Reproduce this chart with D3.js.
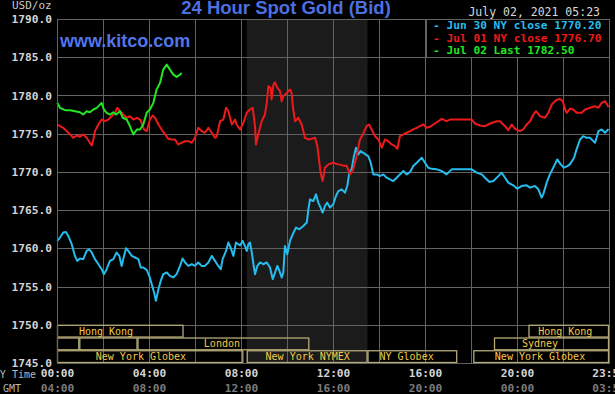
<!DOCTYPE html>
<html>
<head>
<meta charset="utf-8">
<script src="https://cdn.jsdelivr.net/npm/d3@7"></script>
<style>
  body { margin: 0; background: #000; }
  svg { display: block; }
</style>
</head>
<body>
<svg id="chart" width="615" height="394"></svg>
<script>
// hours since 00:00 NY time, price in USD/oz
var jun30 = [[0.01,1760.97],[0.13,1761.41],[0.27,1762.06],[0.39,1762.14],[0.49,1761.62],[0.64,1760.54],[0.78,1759.01],[0.88,1758.36],[1.0,1758.67],[1.14,1758.58],[1.29,1759.66],[1.4,1759.88],[1.51,1759.45],[1.65,1758.58],[1.8,1757.92],[1.94,1757.27],[2.04,1756.62],[2.16,1757.27],[2.3,1758.36],[2.45,1758.58],[2.59,1759.45],[2.71,1759.01],[2.81,1757.7],[2.88,1758.58],[3.0,1760.01],[3.1,1759.66],[3.25,1759.01],[3.39,1758.8],[3.54,1758.58],[3.64,1757.49],[3.75,1757.49],[3.9,1757.18],[4.01,1756.4],[4.12,1755.31],[4.22,1754.23],[4.3,1753.13],[4.41,1754.66],[4.51,1755.74],[4.62,1756.62],[4.77,1756.84],[4.91,1756.4],[5.06,1756.19],[5.2,1756.62],[5.35,1757.7],[5.46,1758.67],[5.57,1758.15],[5.71,1757.7],[5.86,1757.92],[6.0,1757.7],[6.14,1758.15],[6.29,1757.7],[6.43,1757.7],[6.58,1758.15],[6.73,1759.01],[6.87,1758.36],[7.01,1757.7],[7.12,1757.27],[7.2,1758.58],[7.35,1759.66],[7.45,1760.76],[7.55,1760.1],[7.67,1759.01],[7.78,1760.76],[7.88,1760.54],
  [7.96,1760.4],[8.07,1760.97],[8.17,1760.31],[8.25,1759.66],[8.32,1760.54],[8.39,1760.76],[8.47,1759.45],[8.54,1757.92],[8.61,1756.62],[8.71,1757.7],[8.83,1758.15],[8.97,1757.92],[9.12,1758.15],[9.26,1757.49],[9.38,1755.97],[9.48,1756.84],[9.58,1757.7],[9.67,1757.05],[9.77,1756.19],[9.84,1756.84],[9.91,1760.31],[10.01,1759.23],[10.13,1760.97],[10.25,1761.84],[10.39,1762.71],[10.54,1762.49],[10.71,1762.92],[10.86,1763.37],[10.93,1765.1],[11.0,1766.41],[11.14,1766.19],[11.26,1767.06],[11.36,1765.98],[11.46,1765.33],[11.55,1764.67],[11.65,1765.54],[11.75,1765.98],[11.87,1765.33],[12.01,1765.76],[12.13,1766.84],[12.23,1767.49],[12.38,1767.72],[12.52,1767.28],[12.62,1768.15],[12.71,1769.9],[12.81,1770.33],[12.91,1772.06],[13.0,1773.16],[13.1,1772.28],[13.2,1772.72],[13.35,1772.42],[13.53,1772.06],[13.64,1771.2],[13.75,1769.67],[13.9,1769.67],[14.04,1769.45],[14.19,1769.67],[14.33,1769.24],[14.48,1769.02],[14.62,1768.8],[14.77,1769.24],[14.91,1769.67],[15.06,1770.11],[15.2,1769.67],[15.35,1769.98],[15.49,1770.76],[15.64,1771.2],[15.86,1771.85],[16.0,1771.2],[16.14,1770.55],
  [16.29,1770.4],[16.51,1770.33],[16.73,1770.11],[16.94,1769.67],[17.16,1770.33],[17.52,1770.33],[18.03,1770.33],[18.25,1769.9],[18.47,1769.67],[18.61,1769.24],[18.8,1768.67],[18.97,1768.8],[19.19,1769.45],[19.33,1769.9],[19.48,1769.24],[19.62,1768.59],[19.84,1768.24],[20.01,1767.8],[20.2,1768.15],[20.42,1768.24],[20.57,1767.94],[20.78,1768.15],[20.93,1767.72],[21.07,1766.63],[21.14,1767.06],[21.29,1768.59],[21.43,1769.67],[21.61,1770.76],[21.75,1771.63],[21.9,1770.98],[22.04,1770.55],[22.19,1770.76],[22.3,1770.98],[22.48,1771.85],[22.59,1772.94],[22.74,1774.24],[22.88,1774.67],[23.03,1774.46],[23.17,1774.46],[23.32,1774.02],[23.39,1773.81],[23.46,1774.46],[23.54,1775.33],[23.68,1775.55],[23.83,1775.12],[23.98,1775.6]];

var jul01 = [[0.01,1776.2],[0.13,1775.98],[0.27,1775.77],[0.42,1775.33],[0.57,1774.9],[0.71,1774.46],[0.86,1774.76],[1.0,1774.6],[1.14,1774.9],[1.29,1774.46],[1.43,1773.81],[1.51,1773.46],[1.58,1774.24],[1.65,1775.33],[1.8,1776.2],[1.94,1776.85],[2.09,1776.63],[2.23,1776.85],[2.38,1777.28],[2.52,1777.73],[2.62,1778.38],[2.74,1777.94],[2.88,1777.5],[3.03,1777.08],[3.17,1777.28],[3.32,1776.85],[3.47,1777.08],[3.61,1776.85],[3.68,1776.42],[3.78,1775.55],[3.9,1775.33],[4.04,1776.85],[4.16,1777.38],[4.26,1777.08],[4.41,1776.2],[4.55,1775.55],[4.7,1774.9],[4.84,1774.33],[4.99,1774.24],[5.13,1774.24],[5.27,1773.59],[5.42,1773.81],[5.57,1774.02],[5.71,1774.02],[5.86,1773.81],[6.0,1774.46],[6.14,1775.77],[6.29,1775.33],[6.43,1775.12],[6.58,1775.77],[6.73,1775.12],[6.87,1774.46],[6.94,1774.6],[7.09,1776.63],[7.23,1776.85],[7.35,1778.38],[7.45,1777.94],[7.6,1776.2],[7.74,1776.85],[7.81,1776.2],[7.96,1775.55],
  [8.1,1776.42],[8.25,1777.73],[8.39,1778.16],[8.51,1778.38],[8.61,1775.98],[8.65,1773.59],[8.75,1774.9],[8.9,1776.63],[9.04,1777.5],[9.12,1779.03],[9.19,1781.2],[9.29,1780.99],[9.33,1779.47],[9.41,1781.42],[9.48,1781.72],[9.58,1780.99],[9.7,1780.55],[9.77,1779.24],[9.84,1779.9],[9.99,1780.34],[10.13,1780.77],[10.2,1780.34],[10.27,1778.16],[10.35,1776.63],[10.49,1777.08],[10.64,1776.2],[10.78,1774.46],[10.93,1774.24],[11.07,1774.33],[11.22,1774.46],[11.32,1773.37],[11.39,1771.63],[11.46,1769.9],[11.55,1768.8],[11.65,1770.55],[11.8,1770.98],[12.01,1771.2],[12.23,1770.98],[12.43,1770.85],[12.6,1770.76],[12.74,1769.67],[12.88,1770.33],[13.03,1772.06],[13.17,1774.24],[13.3,1774.9],[13.46,1775.98],[13.57,1776.2],[13.68,1775.55],[13.83,1774.67],[13.97,1774.24],[14.12,1773.16],[14.26,1774.24],[14.4,1774.02],[14.55,1773.59],[14.7,1773.37],[14.8,1773.03],[14.91,1774.67],[15.06,1774.9],[15.2,1775.12],[15.35,1775.33],[15.49,1775.55],[15.64,1775.77],[15.78,1775.98],[15.93,1776.2],[16.07,1775.77],
  [16.22,1775.9],[16.51,1776.5],[16.73,1776.94],[16.94,1776.63],[17.09,1776.85],[17.52,1776.85],[18.03,1776.85],[18.17,1776.33],[18.39,1776.07],[18.61,1775.98],[18.83,1776.33],[19.12,1776.63],[19.26,1776.63],[19.48,1775.98],[19.62,1775.46],[19.77,1776.2],[19.91,1775.64],[20.13,1775.33],[20.27,1775.55],[20.42,1776.2],[20.57,1776.63],[20.71,1777.5],[20.83,1777.94],[21.0,1777.28],[21.22,1777.08],[21.36,1777.73],[21.51,1778.81],[21.7,1779.37],[21.87,1779.55],[21.99,1779.24],[22.09,1778.16],[22.16,1777.73],[22.3,1778.25],[22.45,1778.16],[22.59,1777.73],[22.81,1777.73],[22.96,1778.16],[23.17,1778.38],[23.39,1778.59],[23.54,1778.38],[23.68,1779.03],[23.83,1779.24],[23.98,1778.5]];

var jul02 = [[0.01,1779.03],[0.13,1778.38],[0.35,1778.07],[0.57,1778.07],[0.78,1777.94],[1.0,1777.81],[1.14,1777.5],[1.29,1777.94],[1.43,1777.81],[1.58,1778.16],[1.73,1778.38],[1.94,1779.03],[2.04,1778.16],[2.16,1777.73],[2.3,1777.5],[2.45,1777.8],[2.57,1777.5],[2.74,1777.94],[2.86,1777.08],[3.03,1776.85],[3.17,1775.98],[3.32,1774.9],[3.47,1775.55],[3.61,1775.55],[3.75,1776.2],[3.9,1777.73],[4.04,1778.16],[4.19,1779.03],[4.33,1780.77],[4.48,1781.64],[4.62,1783.38],[4.77,1784.03],[4.91,1783.38],[5.06,1782.73],[5.2,1782.43],[5.35,1782.73],[5.42,1782.95]];

var priceTicks = [1745, 1750, 1755, 1760, 1765, 1770, 1775, 1780, 1785, 1790];
var hourTicks = [0, 4, 8, 12, 16, 20, 23.983];
var nyLabels = ['00:00', '04:00', '08:00', '12:00', '16:00', '20:00', '23:59'];
var gmtLabels = ['04:00', '08:00', '12:00', '16:00', '20:00', '00:00', '03:59'];

var legendItems = ['Jun 30 NY close 1770.20', 'Jul 01 NY close 1776.70', 'Jul 02 Last 1782.50'];

// trading sessions: row, start hour, end hour, label, label hour
var sessions = [
  [0, 0, 5.5, 'Hong Kong', 2.13],
  [0, 20.5, 24, 'Hong Kong', 22.1],
  [1, 0, 0.97, '', 0],
  [1, 0.97, 3.5, '', 0],
  [1, 3.5, 10.97, 'London', 7.17],
  [1, 19.0, 24, 'Sydney', 21.0],
  [2, 0, 8.1, 'New York Globex', 3.65],
  [2, 8.25, 13.5, 'New York NYMEX', 10.9],
  [2, 13.5, 17.4, 'NY Globex', 15.2],
  [2, 18.1, 24, 'New York Globex', 21.0]
];
var pitHours = [8.25, 13.5];

var svg = d3.select('#chart');
var W = 615, H = 394;
var plotL = 57, plotR = 609, plotT = 19, plotB = 363;
var mono = '"DejaVu Sans Mono", monospace';
var gridColor = '#626262';

var x = d3.scaleLinear().domain([0, 24]).range([plotL, plotR]);
var y = d3.scaleLinear().domain([1745, 1790]).range([plotB, plotT]);

svg.append('rect').attr('width', W).attr('height', H).attr('fill', '#000');

// NYMEX pit hours shading
svg.append('rect')
  .attr('x', x(pitHours[0])).attr('y', plotT)
  .attr('width', x(pitHours[1]) - x(pitHours[0]))
  .attr('height', plotB - plotT)
  .attr('fill', '#1b1b1b');

// grid
var grid = svg.append('g').attr('class', 'grid');
grid.selectAll('line.h')
  .data(priceTicks)
  .enter().append('line')
  .attr('class', 'h')
  .attr('x1', plotL).attr('x2', plotR)
  .attr('y1', function (d) { return Math.round(y(d)) + 0.5; })
  .attr('y2', function (d) { return Math.round(y(d)) + 0.5; });
grid.selectAll('line.v')
  .data(d3.range(0, 25, 2))
  .enter().append('line')
  .attr('class', 'v')
  .attr('y1', plotT).attr('y2', plotB)
  .attr('x1', function (d) { return Math.round(x(d)) + 0.5; })
  .attr('x2', function (d) { return Math.round(x(d)) + 0.5; });
grid.selectAll('line')
  .attr('stroke', gridColor)
  .attr('stroke-width', 1);

// session boxes
var rowH = (y(1745) - y(1750)) / 3;
var sess = svg.append('g').attr('class', 'sessions');
sess.selectAll('rect')
  .data(sessions)
  .enter().append('rect')
  .attr('x', function (d) { return x(d[1]) + 0.5; })
  .attr('y', function (d) { return y(1750) + d[0] * rowH + 0.5; })
  .attr('width', function (d) { return x(d[2]) - x(d[1]) - 1; })
  .attr('height', rowH - 1)
  .attr('fill', 'none')
  .attr('stroke', '#b3aa78')
  .attr('stroke-width', 1.3);
sess.selectAll('text')
  .data(sessions.filter(function (d) { return d[3]; }))
  .enter().append('text')
  .attr('x', function (d) { return x(d[4]); })
  .attr('y', function (d) { return y(1750) + (d[0] + 0.5) * rowH + 0.5; })
  .attr('text-anchor', 'middle')
  .attr('dominant-baseline', 'middle')
  .attr('font-family', mono)
  .attr('font-size', '10px')
  .attr('fill', '#f2c94a')
  .text(function (d) { return d[3]; });

// price lines
var line = d3.line()
  .x(function (d) { return x(d[0]); })
  .y(function (d) { return y(d[1]); });
var series = [
  { data: jun30, color: '#25bdee' },
  { data: jul01, color: '#ee1a1a' },
  { data: jul02, color: '#22e622' }
];
svg.append('g').selectAll('path')
  .data(series)
  .enter().append('path')
  .attr('d', function (d) { return line(d.data); })
  .attr('fill', 'none')
  .attr('stroke', function (d) { return d.color; })
  .attr('stroke-width', 2)
  .attr('stroke-linejoin', 'round');

// frame
svg.append('rect')
  .attr('x', plotL + 0.5).attr('y', plotT + 0.5)
  .attr('width', plotR - plotL).attr('height', plotB - plotT)
  .attr('fill', 'none').attr('stroke', gridColor);

// legend
var legend = svg.append('g').attr('transform', 'translate(426,19)');
legend.append('rect')
  .attr('x', 0.5).attr('y', 0.5)
  .attr('width', plotR - 426).attr('height', 38)
  .attr('fill', '#000').attr('stroke', gridColor);
legend.selectAll('text')
  .data(legendItems)
  .enter().append('text')
  .attr('x', 7)
  .attr('y', function (d, i) { return 10 + i * 12.5; })
  .attr('font-family', mono)
  .attr('font-size', '11.2px')
  .attr('font-weight', 'bold')
  .attr('fill', function (d, i) { return series[i].color; })
  .text(function (d) { return '- ' + d; });

// y axis labels
var yAxis = svg.append('g')
  .attr('transform', 'translate(' + plotL + ',0)')
  .call(d3.axisLeft(y).tickValues(priceTicks).tickFormat(d3.format('.1f')).tickSize(0).tickPadding(5));
yAxis.select('.domain').remove();
yAxis.selectAll('text')
  .attr('font-family', mono)
  .attr('font-size', '11.2px')
  .attr('font-weight', 'bold')
  .attr('fill', '#d4d4d4');

// x axis labels, NY time and GMT
var xAxis = svg.append('g')
  .attr('transform', 'translate(0,369)')
  .call(d3.axisBottom(x).tickValues(hourTicks).tickSize(0).tickPadding(0)
    .tickFormat(function (d, i) { return nyLabels[i]; }));
var gmtAxis = svg.append('g')
  .attr('transform', 'translate(0,384)')
  .call(d3.axisBottom(x).tickValues(hourTicks).tickSize(0).tickPadding(0)
    .tickFormat(function (d, i) { return gmtLabels[i]; }));
xAxis.select('.domain').remove();
gmtAxis.select('.domain').remove();
[xAxis, gmtAxis].forEach(function (g, k) {
  g.selectAll('text')
    .attr('font-family', mono)
    .attr('font-size', '11.2px')
    .attr('font-weight', 'bold')
    .attr('fill', k === 0 ? '#d4d4d4' : '#7a7a7a');
});

svg.append('text')
  .attr('x', 36).attr('y', 378)
  .attr('text-anchor', 'end')
  .attr('font-family', mono).attr('font-size', '10px')
  .attr('fill', '#b8b8b8')
  .text('NY Time');
svg.append('text')
  .attr('x', 3).attr('y', 392)
  .attr('font-family', mono).attr('font-size', '10px')
  .attr('fill', '#b8b8b8')
  .text('GMT');

// header texts
svg.append('text')
  .attr('x', 12).attr('y', 9)
  .attr('font-family', mono).attr('font-size', '11px')
  .attr('fill', '#c8c8c8')
  .text('USD/oz');
svg.append('text')
  .attr('x', 286).attr('y', 14)
  .attr('text-anchor', 'middle')
  .attr('font-family', '"Liberation Sans", Arial, sans-serif')
  .attr('font-size', '18.5px').attr('font-weight', 'bold')
  .attr('fill', '#4d6fe0')
  .text('24 Hour Spot Gold (Bid)');
svg.append('text')
  .attr('x', 600).attr('y', 16)
  .attr('text-anchor', 'end')
  .attr('font-family', mono).attr('font-size', '11.5px')
  .attr('fill', '#d8d8d8')
  .text('July 02, 2021 05:23');
svg.append('text')
  .attr('x', 60).attr('y', 47)
  .attr('font-family', '"Liberation Sans", Arial, sans-serif')
  .attr('font-size', '18px').attr('font-weight', 'bold')
  .attr('fill', '#5275ea')
  .text('www.kitco.com');
</script>
</body>
</html>
